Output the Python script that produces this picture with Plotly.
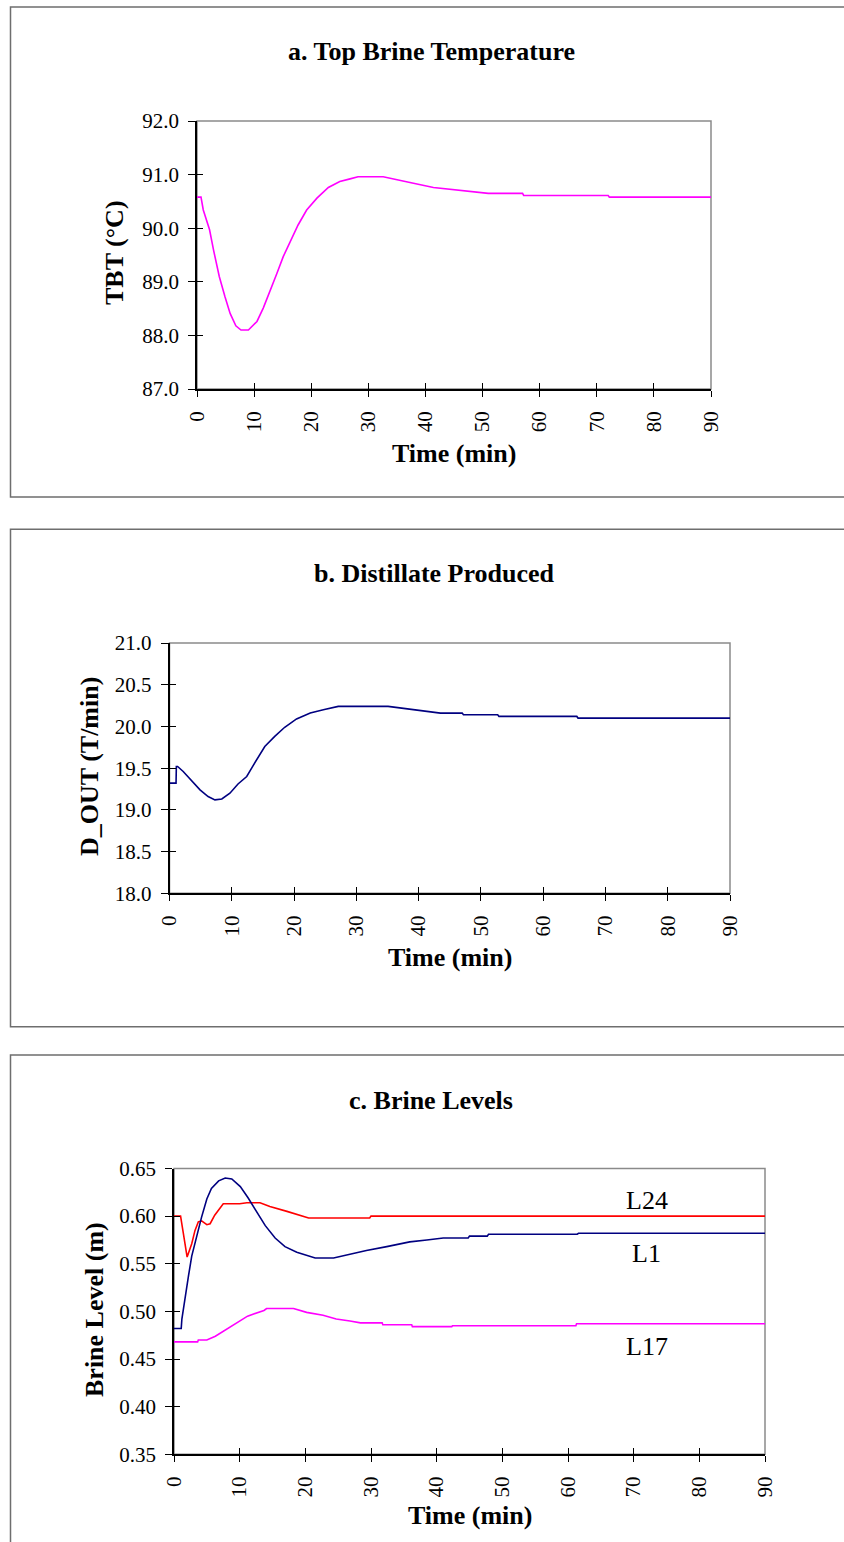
import plotly.graph_objects as go

# ---------------- data ----------------
# a. Top brine temperature (TBT, deg C) vs time (min)
t_tbt = [0, 0.7, 1.1, 2.2, 2.9, 3.9, 4.9, 5.8, 6.8, 7.7, 9.0, 10.5, 11.6, 12.8, 14.0,
         15.1, 16.3, 17.7, 19.2, 21.0, 23.0, 25.0, 26.8, 28.2, 32.6, 35.0, 37.9, 41.4,
         45.5, 49.6, 51.0, 57.0, 57.2, 72.0, 72.2, 90]
tbt = [90.58, 90.58, 90.34, 89.97, 89.59, 89.10, 88.72, 88.41, 88.18, 88.10, 88.10,
       88.26, 88.51, 88.82, 89.16, 89.47, 89.75, 90.06, 90.34, 90.56, 90.76, 90.87,
       90.92, 90.96, 90.96, 90.90, 90.84, 90.76, 90.71, 90.67, 90.65, 90.65, 90.61,
       90.61, 90.58, 90.58]

# b. Distillate produced (D_OUT, T/min)
t_dout = [0, 1.05, 1.1, 1.3, 2.2, 3.6, 4.9, 6.2, 7.3, 8.4, 9.7, 11.0, 12.4, 13.5, 15.3,
          16.9, 18.5, 20.4, 22.6, 24.7, 27.1, 35.1, 38.1, 40.8, 43.5, 47.0, 47.2, 52.7,
          52.9, 65.4, 65.6, 90]
d_out = [19.32, 19.32, 19.52, 19.52, 19.46, 19.34, 19.24, 19.16, 19.12, 19.13, 19.20,
         19.31, 19.40, 19.54, 19.76, 19.88, 19.99, 20.09, 20.16, 20.20, 20.24, 20.24,
         20.21, 20.19, 20.16, 20.16, 20.14, 20.14, 20.12, 20.12, 20.10, 20.10]

# c. Brine levels (m) in stages 24, 1 and 17
t_l24 = [0, 1.0, 1.4, 2.0, 2.7, 3.2, 3.7, 4.2, 5.0, 5.5, 6.2, 7.0, 7.5, 10.0, 11.1,
         13.1, 14.6, 17.2, 19.2, 20.5, 29.8, 30.0, 90]
l24 = [0.600, 0.600, 0.583, 0.557, 0.571, 0.585, 0.594, 0.595, 0.591, 0.592, 0.601,
       0.609, 0.613, 0.613, 0.614, 0.614, 0.610, 0.605, 0.601, 0.598, 0.598, 0.600, 0.600]

t_l1 = [0, 1.1, 1.2, 1.7, 2.2, 2.7, 3.5, 4.2, 5.0, 5.7, 6.8, 7.8, 8.8, 10.1, 11.3, 12.6,
        13.9, 15.4, 16.9, 18.7, 20.2, 21.5, 24.3, 26.8, 29.3, 32.4, 35.9, 38.5, 41.0,
        44.8, 45.0, 47.7, 47.9, 61.4, 61.6, 90]
l1 = [0.482, 0.482, 0.492, 0.516, 0.537, 0.558, 0.580, 0.599, 0.618, 0.629, 0.637,
      0.640, 0.639, 0.631, 0.619, 0.604, 0.590, 0.577, 0.568, 0.562, 0.559, 0.556,
      0.556, 0.560, 0.564, 0.568, 0.573, 0.575, 0.577, 0.577, 0.579, 0.579, 0.581,
      0.581, 0.582, 0.582]

t_l17 = [0, 3.6, 3.7, 5.0, 6.3, 8.8, 11.2, 13.7, 14.1, 18.2, 20.2, 22.7, 24.7, 26.8,
         28.4, 31.7, 31.8, 36.2, 36.3, 42.3, 42.4, 61.2, 61.3, 90]
l17 = [0.468, 0.468, 0.470, 0.470, 0.474, 0.485, 0.495, 0.501, 0.503, 0.503, 0.499,
       0.496, 0.492, 0.490, 0.488, 0.488, 0.486, 0.486, 0.484, 0.484, 0.485, 0.485,
       0.487, 0.487]

level_labels = ["L24", "L1", "L17"]
label_t = [72, 72, 72]
label_y = [0.616, 0.561, 0.463]

# ---------------- layout helpers ----------------
W, H = 844, 1542
SERIF = "Liberation Serif, Times New Roman, serif"


def fx(px):
    return px / W


def fy(py):
    return 1 - py / H


MAGENTA = "#FF00FF"
NAVY = "#000080"
RED = "#FF0000"

fig = go.Figure()

# panels: (x-domain px, y-domain px, y-range, y-dtick, y-format)
panels = [
    dict(x=(197, 711), y=(121, 389), yr=[87, 92], dt=1, fmt=".1f"),
    dict(x=(169.5, 730), y=(643, 893.3), yr=[18, 21], dt=0.5, fmt=".1f"),
    dict(x=(174, 765), y=(1168.5, 1454.3), yr=[0.35, 0.65], dt=0.05, fmt=".2f"),
]

tick_font = dict(family=SERIF, size=21, color="black")

for i, p in enumerate(panels):
    n = i + 1
    xa = "xaxis" if n == 1 else f"xaxis{n}"
    ya = "yaxis" if n == 1 else f"yaxis{n}"
    xr, yr_ = ("x" if n == 1 else f"x{n}"), ("y" if n == 1 else f"y{n}")
    xdom = [fx(p["x"][0]), fx(p["x"][1])]
    ydom = [fy(p["y"][1]), fy(p["y"][0])]
    fig.layout[xa] = dict(domain=xdom, anchor=yr_, range=[0, 90], dtick=10, tick0=0,
                          showgrid=False, zeroline=False, showline=True,
                          linecolor="black", linewidth=1.5, ticks="outside",
                          ticklen=6, tickwidth=1.3, tickcolor="black",
                          tickangle=-90, tickfont=tick_font, ticklabelstandoff=6)
    fig.layout[ya] = dict(domain=ydom, anchor=xr, range=p["yr"], dtick=p["dt"],
                          tick0=p["yr"][0], tickformat=p["fmt"], showgrid=False,
                          zeroline=False, showline=True, linecolor="black",
                          linewidth=1.5, ticks="outside", ticklen=7, tickwidth=1.3,
                          tickcolor="black", tickfont=tick_font, ticklabelstandoff=5)
    # companion axes give the tick marks their inner half (crossing ticks)
    m = n + 3
    fig.layout[f"xaxis{m}"] = dict(overlaying=xr, anchor=f"y{m}", side="bottom",
                                   range=[0, 90], dtick=10, tick0=0, showgrid=False,
                                   zeroline=False, showline=False, ticks="inside",
                                   ticklen=6, tickwidth=1.3, tickcolor="black",
                                   showticklabels=False)
    fig.layout[f"yaxis{m}"] = dict(overlaying=yr_, anchor=f"x{m}", side="left",
                                   range=p["yr"], dtick=p["dt"], tick0=p["yr"][0],
                                   showgrid=False, zeroline=False, showline=False,
                                   ticks="inside", ticklen=6, tickwidth=1.3,
                                   tickcolor="black", showticklabels=False)
    fig.add_trace(go.Scatter(x=[], y=[], xaxis=f"x{m}", yaxis=f"y{m}",
                             showlegend=False, hoverinfo="skip"))
    # grey frame on top/right of the plot area
    fig.add_shape(type="rect", xref=f"{xr} domain", yref=f"{yr_} domain",
                  x0=0, x1=1, y0=0, y1=1, line=dict(color="#8a8a8a", width=1.5),
                  layer="below")

line_w = 1.6
fig.add_trace(go.Scatter(x=t_tbt, y=tbt, mode="lines", line=dict(color=MAGENTA, width=line_w),
                         xaxis="x", yaxis="y", showlegend=False))
fig.add_trace(go.Scatter(x=t_dout, y=d_out, mode="lines", line=dict(color=NAVY, width=line_w),
                         xaxis="x2", yaxis="y2", showlegend=False))
fig.add_trace(go.Scatter(x=t_l24, y=l24, mode="lines", line=dict(color=RED, width=line_w),
                         xaxis="x3", yaxis="y3", name="L24", showlegend=False))
fig.add_trace(go.Scatter(x=t_l1, y=l1, mode="lines", line=dict(color=NAVY, width=line_w),
                         xaxis="x3", yaxis="y3", name="L1", showlegend=False))
fig.add_trace(go.Scatter(x=t_l17, y=l17, mode="lines", line=dict(color=MAGENTA, width=line_w),
                         xaxis="x3", yaxis="y3", name="L17", showlegend=False))

# outer panel frames (open on the right, where they run past the page edge)
box_left = fx(10.5)
frames = [(7, 497), (529.3, 1026.7)]
for top, bottom in frames:
    fig.add_shape(type="path", xref="paper", yref="paper",
                  path=f"M 1,{fy(top)} L {box_left},{fy(top)} L {box_left},{fy(bottom)} L 1,{fy(bottom)}",
                  line=dict(color="#6e6e6e", width=1.5), layer="below")
fig.add_shape(type="path", xref="paper", yref="paper",
              path=f"M 1,{fy(1055)} L {box_left},{fy(1055)} L {box_left},0",
              line=dict(color="#6e6e6e", width=1.5), layer="below")

bold = dict(family=SERIF, size=26, color="black")


def text_at(txt, px, py, angle=0, font=bold):
    fig.add_annotation(text=txt, x=fx(px), y=fy(py), xref="paper", yref="paper",
                       showarrow=False, textangle=angle, font=font,
                       xanchor="center", yanchor="middle")


titles = ["<b>a. Top Brine Temperature</b>", "<b>b. Distillate Produced</b>",
          "<b>c. Brine Levels</b>"]
y_titles = ["<b>TBT (°C)</b>", "<b>D_OUT (T/min)</b>", "<b>Brine Level (m)</b>"]
x_title = "<b>Time (min)</b>"

text_at(titles[0], 431, 52)
text_at(titles[1], 434, 573)
text_at(titles[2], 431, 1100)
text_at(y_titles[0], 115, 252, angle=-90)
text_at(y_titles[1], 89, 767, angle=-90)
text_at(y_titles[2], 94, 1310, angle=-90)
text_at(x_title, 454, 453)
text_at(x_title, 450, 957)
text_at(x_title, 470, 1515)

for lab, tx, ly in zip(level_labels, label_t, label_y):
    fig.add_annotation(text=lab, x=tx, y=ly, xref="x3", yref="y3", showarrow=False,
                       font=dict(family=SERIF, size=26, color="black"),
                       xanchor="center", yanchor="middle")

fig.update_layout(width=W, height=H, margin=dict(l=0, r=0, t=0, b=0, autoexpand=False),
                  paper_bgcolor="white", plot_bgcolor="white", showlegend=False)

fig.write_html("out.html")
